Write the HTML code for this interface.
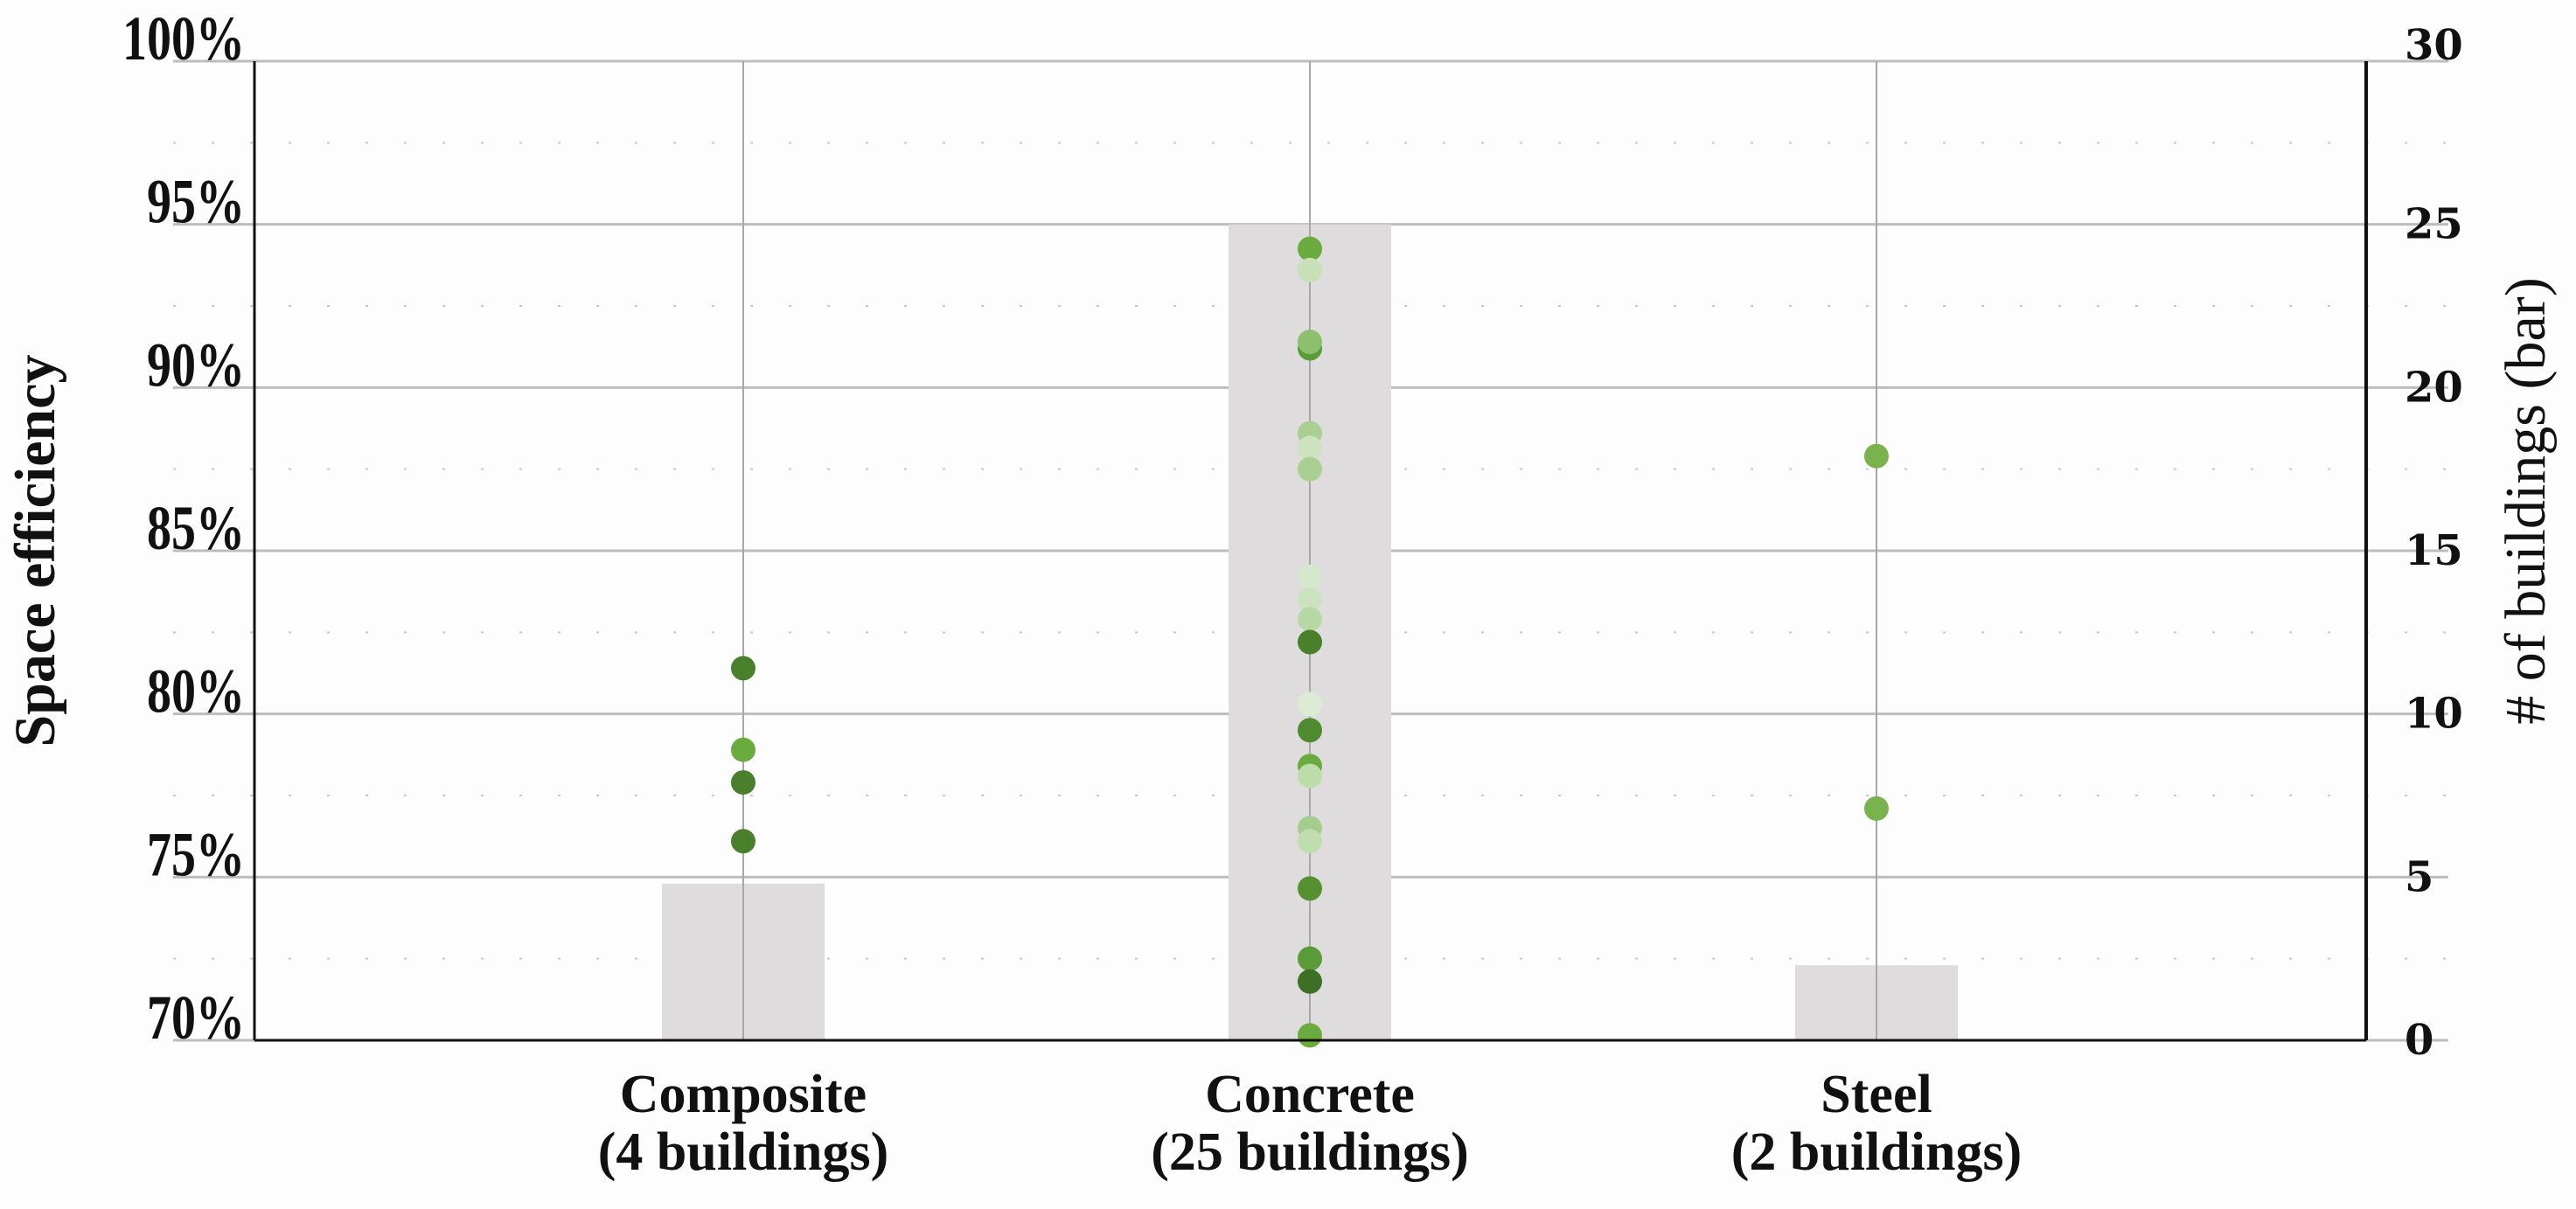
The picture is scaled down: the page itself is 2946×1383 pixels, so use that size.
<!DOCTYPE html>
<html><head><meta charset="utf-8"><style>
html,body{margin:0;padding:0;background:#fdfdfd;}
svg{display:block;font-family:"Liberation Serif",serif;font-weight:bold;}
</style></head><body>
<svg id="chart" width="2946" height="1383" viewBox="0 0 2946 1383" xmlns="http://www.w3.org/2000/svg">
<rect x="0" y="0" width="2946" height="1383" fill="#fdfdfd"/>
<g id="grid"></g><g id="bars"></g><g id="vgrid"></g><g id="dots"></g><g id="axes"></g><g id="labels"></g>
<text x="62" y="630" transform="rotate(-90 62 630)" text-anchor="middle" font-size="66" fill="#111">Space efficiency</text>
<text x="2910" y="573" transform="rotate(-90 2910 573)" text-anchor="middle" font-size="66" font-weight="normal" fill="#111"># of buildings (bar)</text>
</svg>
<script>
const categories = ["Composite", "Concrete", "Steel"];
const catSub = ["(4 buildings)", "(25 buildings)", "(2 buildings)"];
const barCounts = [4.8, 25, 2.3];
const leftTicks = [70, 75, 80, 85, 90, 95, 100];
const rightTicks = [0, 5, 10, 15, 20, 25, 30];
const compositeVals = [81.4, 78.9, 77.9, 76.1];
const compositeCols = ["#4a7f2c", "#6aaa3e", "#4a7f2c", "#4a7f2c"];
const concreteVals = [94.25, 93.6, 91.2, 91.4, 88.6, 88.15, 87.5, 84.2, 83.5, 82.9, 82.2, 80.3, 79.5, 78.4, 78.1, 76.5, 76.1, 74.65, 72.5, 71.8, 70.15];
const concreteCols = ["#6aaa3e", "#c8e0b8", "#5a9a38", "#8cbf6e", "#a9d092", "#cde3c0", "#a9d092", "#d6e8cc", "#cbe2bf", "#b7d8a5", "#4a7f2c", "#dcebd3", "#4e8a30", "#6aaa3e", "#bcdcaa", "#a4cc8c", "#c0ddb0", "#55922f", "#5a9a38", "#3f6e26", "#6aaa3e"];
const steelVals = [87.9, 77.1];
const steelCols = ["#7ab24e", "#7ab24e"];

const NS = "http://www.w3.org/2000/svg";
const L = 291, R = 2706, T = 70, B = 1190;
const yL = v => B - (v - 70) / 30 * (B - T);
const yR = v => B - v / 30 * (B - T);
const xC = i => 1498 + (i - 1) * 648;
function mk(tag, attrs, parent) {
  const e = document.createElementNS(NS, tag);
  for (const k in attrs) e.setAttribute(k, attrs[k]);
  document.getElementById(parent).appendChild(e);
  return e;
}
leftTicks.forEach((t, i) => {
  const g = mk("line", {x1: 198, x2: 2800, y1: yL(t), y2: yL(t), stroke: "#bdbdbd", "stroke-width": 3}, "grid");
  
  
  if (i < leftTicks.length - 1) {
    const m = mk("line", {x1: 198, x2: 2800, y1: yL(t + 2.5), y2: yL(t + 2.5), stroke: "#c8c8c8", "stroke-width": 2, "stroke-dasharray": "3,41"}, "grid");
    
    
  }
  const lt = mk("text", {x: 0, y: 0, "text-anchor": "end", "font-size": 56, fill: "#111", transform: "translate(280," + (yL(t) - 2) + ") scale(1,1.28)"}, "labels");
  lt.textContent = t + "%";
  
  
});
rightTicks.forEach(t => {
  const rt = mk("text", {x: 2750, y: yR(t) + (t === 30 ? -2 : 16), "font-size": 48, fill: "#111", "font-family": "DejaVu Serif, serif"}, "labels");
  rt.textContent = t;
  
  
});
barCounts.forEach((c, i) => {
  const b = mk("rect", {x: xC(i) - 93, y: yR(c), width: 186, height: B - yR(c), fill: "#dedcdc"}, "bars");
  
  
  const v = mk("line", {x1: xC(i), x2: xC(i), y1: T, y2: B, stroke: "#a8a8a8", "stroke-width": 2}, "vgrid");
  
  
  const t1 = mk("text", {x: xC(i), y: 1272, "text-anchor": "middle", "font-size": 62, fill: "#111"}, "labels");
  t1.textContent = categories[i];
  
  
  const t2 = mk("text", {x: xC(i), y: 1338, "text-anchor": "middle", "font-size": 62, fill: "#111"}, "labels");
  t2.textContent = catSub[i];
  
  
});
[[compositeVals, compositeCols], [concreteVals, concreteCols], [steelVals, steelCols]].forEach((s, i) => {
  s[0].forEach((v, j) => {
    const d = mk("circle", {cx: xC(i), cy: yL(v), r: 14, fill: s[1][j]}, "dots");
    
    
  });
});
const a1 = mk("line", {x1: L, x2: L, y1: T, y2: B, stroke: "#111", "stroke-width": 3}, "axes");


const a2 = mk("line", {x1: R, x2: R, y1: T, y2: B, stroke: "#111", "stroke-width": 4}, "axes");


const a3 = mk("line", {x1: L, x2: R, y1: B, y2: B, stroke: "#111", "stroke-width": 3}, "axes");


</script>
</body></html>
